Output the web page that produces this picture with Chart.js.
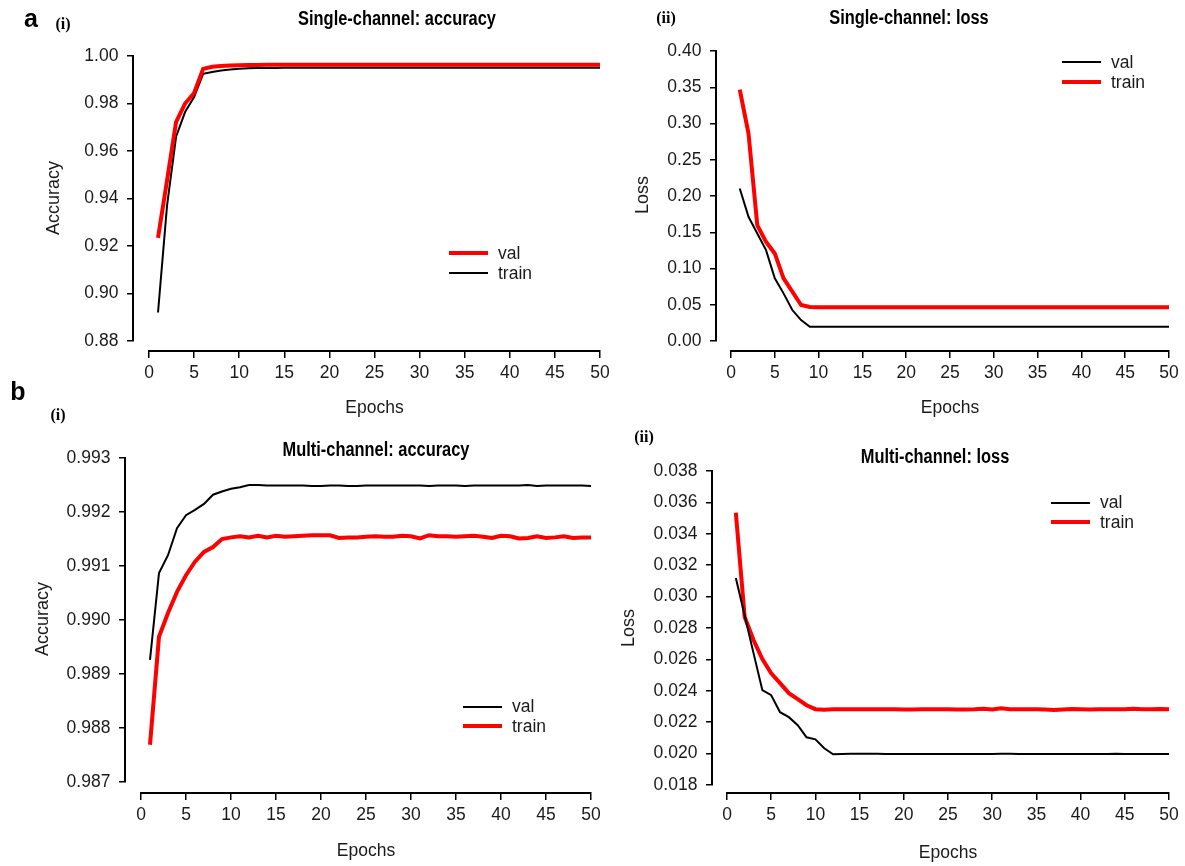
<!DOCTYPE html>
<html lang="en">
<head>
  <meta charset="UTF-8" />
  <title>Single- and multi-channel training curves</title>
  <script src="https://cdn.jsdelivr.net/npm/chart.js"></script>
  <style>
    body { margin: 0; background: #fff; }
    #fig { position: relative; width: 1185px; height: 866px; overflow: hidden;
           font-family: 'Liberation Sans', Arial, sans-serif; color: #1a1a1a; }
    #fig canvas { position: absolute; }
    .txt { position: absolute; white-space: nowrap; line-height: 1; transform: translate(-50%, -50%); }
    .panel { font-weight: bold; font-size: 25px; color: #000; }
    .sub { font-family: 'Liberation Serif', 'Times New Roman', serif; font-weight: bold; font-size: 16px; color: #000; }
    /* condensed bold headings */
    .title { font-weight: bold; font-size: 20px; color: #000; transform: translate(-50%, -50%) scaleX(0.82); }
    .ytitle { font-size: 18px; transform: translate(-50%, -50%) rotate(-90deg); }
    .legend { position: absolute; font-size: 17.5px; }
    .legend .row { display: flex; align-items: center; }
    .legend .swatch { display: inline-block; width: 39px; margin-right: 10px; }
  </style>
</head>
<body>
  <div id="fig">
    <canvas id="accSingle" width="620" height="430" style="left:0;top:0"></canvas>
    <canvas id="lossSingle" width="585" height="430" style="left:600px;top:0"></canvas>
    <canvas id="accMulti" width="610" height="436" style="left:0;top:430px"></canvas>
    <canvas id="lossMulti" width="585" height="436" style="left:600px;top:430px"></canvas>

    <div class="txt panel" style="left:31px;top:18px">a</div>
    <div class="txt sub" style="left:63px;top:24px">(i)</div>
    <div class="txt sub" style="left:666px;top:18px">(ii)</div>
    <div class="txt title" style="left:397px;top:18px">Single-channel: accuracy</div>
    <div class="txt title" style="left:909px;top:17px">Single-channel: loss</div>
    <div class="txt ytitle" style="left:53px;top:198px">Accuracy</div>
    <div class="txt ytitle" style="left:642px;top:195px">Loss</div>

    <div class="txt panel" style="left:18px;top:391px">b</div>
    <div class="txt sub" style="left:58px;top:415px">(i)</div>
    <div class="txt sub" style="left:644px;top:437px">(ii)</div>
    <div class="txt title" style="left:376px;top:449px">Multi-channel: accuracy</div>
    <div class="txt title" style="left:935px;top:456px">Multi-channel: loss</div>
    <div class="txt ytitle" style="left:42px;top:619px">Accuracy</div>
    <div class="txt ytitle" style="left:628px;top:628px">Loss</div>
  </div>

  <script>
    const epochs = [
      1, 2, 3, 4, 5, 6, 7, 8, 9, 10,
      11, 12, 13, 14, 15, 16, 17, 18, 19, 20,
      21, 22, 23, 24, 25, 26, 27, 28, 29, 30,
      31, 32, 33, 34, 35, 36, 37, 38, 39, 40,
      41, 42, 43, 44, 45, 46, 47, 48, 49, 50
    ];

    // single-channel model
    const singleAccVal = [
      0.9234, 0.9476, 0.9722, 0.9800, 0.9844, 0.9946, 0.9955, 0.9958, 0.9960, 0.9961,
      0.9962, 0.9962, 0.9963, 0.9963, 0.9963, 0.9963, 0.9963, 0.9963, 0.9963, 0.9963,
      0.9963, 0.9963, 0.9963, 0.9963, 0.9963, 0.9963, 0.9963, 0.9963, 0.9963, 0.9963,
      0.9963, 0.9963, 0.9963, 0.9963, 0.9963, 0.9963, 0.9963, 0.9963, 0.9963, 0.9963,
      0.9963, 0.9963, 0.9963, 0.9963, 0.9963, 0.9963, 0.9963, 0.9963, 0.9963, 0.9963
    ];
    const singleAccTrain = [
      0.8920, 0.9370, 0.9660, 0.9764, 0.9827, 0.9925, 0.9933, 0.9939, 0.9943, 0.9946,
      0.9948, 0.9949, 0.9950, 0.9950, 0.9951, 0.9951, 0.9951, 0.9951, 0.9951, 0.9951,
      0.9951, 0.9951, 0.9951, 0.9951, 0.9951, 0.9951, 0.9951, 0.9951, 0.9951, 0.9951,
      0.9951, 0.9951, 0.9951, 0.9951, 0.9951, 0.9951, 0.9951, 0.9951, 0.9951, 0.9951,
      0.9951, 0.9951, 0.9951, 0.9951, 0.9951, 0.9951, 0.9951, 0.9951, 0.9951, 0.9951
    ];
    const singleLossVal = [
      0.2104, 0.1713, 0.1484, 0.1254, 0.0864, 0.0657, 0.0427, 0.0289, 0.0197, 0.0197,
      0.0197, 0.0197, 0.0197, 0.0197, 0.0197, 0.0197, 0.0197, 0.0197, 0.0197, 0.0197,
      0.0197, 0.0197, 0.0197, 0.0197, 0.0197, 0.0197, 0.0197, 0.0197, 0.0197, 0.0197,
      0.0197, 0.0197, 0.0197, 0.0197, 0.0197, 0.0197, 0.0197, 0.0197, 0.0197, 0.0197,
      0.0197, 0.0197, 0.0197, 0.0197, 0.0197, 0.0197, 0.0197, 0.0197, 0.0197, 0.0197
    ];
    const singleLossTrain = [
      0.3468, 0.2862, 0.1598, 0.1368, 0.1208, 0.0864, 0.0680, 0.0496, 0.0468, 0.0467,
      0.0467, 0.0467, 0.0467, 0.0467, 0.0467, 0.0467, 0.0467, 0.0467, 0.0467, 0.0467,
      0.0467, 0.0467, 0.0467, 0.0467, 0.0467, 0.0467, 0.0467, 0.0467, 0.0467, 0.0467,
      0.0467, 0.0467, 0.0467, 0.0467, 0.0467, 0.0467, 0.0467, 0.0467, 0.0467, 0.0467,
      0.0467, 0.0467, 0.0467, 0.0467, 0.0467, 0.0467, 0.0467, 0.0467, 0.0467, 0.0467
    ];

    // multi-channel model
    const multiAccVal = [
      0.98926, 0.99087, 0.99120, 0.99170, 0.99194, 0.99204, 0.99215, 0.99232, 0.99238, 0.99243,
      0.99246, 0.99250, 0.99250, 0.99249, 0.99249, 0.99249, 0.99249, 0.99249, 0.99248, 0.99248,
      0.99249, 0.99249, 0.99248, 0.99248, 0.99249, 0.99249, 0.99249, 0.99249, 0.99249, 0.99249,
      0.99249, 0.99248, 0.99249, 0.99249, 0.99249, 0.99248, 0.99249, 0.99249, 0.99249, 0.99249,
      0.99249, 0.99249, 0.99250, 0.99248, 0.99249, 0.99249, 0.99249, 0.99249, 0.99249, 0.99248
    ];
    const multiAccTrain = [
      0.98769, 0.98969, 0.99013, 0.99052, 0.99083, 0.99108, 0.99126, 0.99135, 0.99150, 0.99153,
      0.99155, 0.99153, 0.99156, 0.99153, 0.99156, 0.99154, 0.99155, 0.99156, 0.99157, 0.99157,
      0.99157, 0.99152, 0.99153, 0.99153, 0.99154, 0.99155, 0.99154, 0.99154, 0.99156, 0.99155,
      0.99151, 0.99157, 0.99155, 0.99155, 0.99154, 0.99155, 0.99156, 0.99154, 0.99152, 0.99156,
      0.99155, 0.99151, 0.99152, 0.99155, 0.99152, 0.99153, 0.99155, 0.99152, 0.99153, 0.99153
    ];
    const multiLossVal = [
      0.03119, 0.02880, 0.02640, 0.02404, 0.02372, 0.02264, 0.02232, 0.02181, 0.02104, 0.02091,
      0.02034, 0.01996, 0.01998, 0.01999, 0.01999, 0.01999, 0.01999, 0.01998, 0.01998, 0.01998,
      0.01997, 0.01998, 0.01998, 0.01998, 0.01998, 0.01998, 0.01998, 0.01998, 0.01998, 0.01998,
      0.01999, 0.01999, 0.01998, 0.01998, 0.01998, 0.01997, 0.01997, 0.01998, 0.01998, 0.01998,
      0.01998, 0.01998, 0.01998, 0.01999, 0.01998, 0.01998, 0.01998, 0.01998, 0.01998, 0.01998
    ];
    const multiLossTrain = [
      0.03534, 0.02870, 0.02723, 0.02602, 0.02512, 0.02449, 0.02385, 0.02347, 0.02308, 0.02283,
      0.02280, 0.02283, 0.02282, 0.02282, 0.02283, 0.02283, 0.02282, 0.02283, 0.02282, 0.02281,
      0.02281, 0.02283, 0.02283, 0.02282, 0.02282, 0.02281, 0.02281, 0.02282, 0.02286, 0.02281,
      0.02289, 0.02282, 0.02283, 0.02283, 0.02282, 0.02281, 0.02277, 0.02281, 0.02284, 0.02283,
      0.02281, 0.02282, 0.02282, 0.02282, 0.02282, 0.02285, 0.02283, 0.02283, 0.02284, 0.02283
    ];

    const RED = '#ff0000';
    const BLACK = '#000000';

    Chart.defaults.font.family = "'Liberation Sans', Arial, sans-serif";
    Chart.defaults.font.size = 17.5;
    Chart.defaults.color = '#1a1a1a';

    function series(label, values, color, width) {
      return {
        label,
        data: values.map((v, i) => ({ x: epochs[i], y: v })),
        borderColor: color,
        backgroundColor: color,
        borderWidth: width,
        pointRadius: 0,
        pointHoverRadius: 0,
        tension: 0,
        fill: false
      };
    }

    // Axes sit a few pixels away from the plot (y left of epoch 0, x below the y minimum),
    // so both are placed at a data position worked out from the pixel gap.
    function drawPanel(id, datasets, o) {
      const canvas = document.getElementById(id);
      const plotW = canvas.width - o.pad.left - o.pad.right;
      const plotH = canvas.height - o.pad.top - o.pad.bottom;
      const yAxisAt = -o.yGap * 50 / plotW;
      const xAxisAt = o.yMin - o.xGap * (o.yMax - o.yMin) / plotH;

      return new Chart(canvas, {
        type: 'line',
        data: { datasets },
        options: {
          responsive: false,
          animation: false,
          events: [],
          layout: { padding: o.pad },
          plugins: {
            legend: { display: false },
            title: { display: false },
            tooltip: { enabled: false }
          },
          scales: {
            x: {
              type: 'linear',
              min: 0,
              max: 50,
              position: { y: xAxisAt },
              border: { color: BLACK, width: 2 },
              grid: { drawOnChartArea: false, tickLength: 6, color: BLACK, lineWidth: 1.5 },
              ticks: { stepSize: 5, padding: 6, maxRotation: 0, autoSkip: false },
              title: { display: true, text: 'Epochs', padding: { top: o.titlePad, bottom: 0 } }
            },
            y: {
              type: 'linear',
              min: o.yMin,
              max: o.yMax,
              position: { x: yAxisAt },
              border: { color: BLACK, width: 2 },
              grid: { drawOnChartArea: false, tickLength: 5, color: BLACK, lineWidth: 1.5 },
              ticks: {
                stepSize: o.yStep,
                // labels are right-aligned on the axis line, the spaces keep them off the ticks
                callback: v => v.toFixed(o.digits) + '   '
              }
            }
          }
        }
      });
    }

    function addLegend(chart, left, top, rowH) {
      const box = document.createElement('div');
      box.className = 'legend';
      box.style.left = left + 'px';
      box.style.top = top + 'px';
      chart.data.datasets.forEach(ds => {
        const row = document.createElement('div');
        row.className = 'row';
        row.style.height = rowH + 'px';
        const swatch = document.createElement('span');
        swatch.className = 'swatch';
        swatch.style.height = ds.borderWidth + 'px';
        swatch.style.background = ds.borderColor;
        const label = document.createElement('span');
        label.textContent = ds.label;
        row.append(swatch, label);
        box.append(row);
      });
      document.getElementById('fig').append(box);
    }

    const accSingle = drawPanel('accSingle', [
      series('val', singleAccVal, RED, 4),
      series('train', singleAccTrain, BLACK, 2)
    ], { pad: { top: 56, right: 20, bottom: 89, left: 149 }, yGap: 16, xGap: 10,
         yMin: 0.88, yMax: 1.00, yStep: 0.02, digits: 2, titlePad: 8 });

    const lossSingle = drawPanel('lossSingle', [
      series('val', singleLossVal, BLACK, 2),
      series('train', singleLossTrain, RED, 4)
    ], { pad: { top: 51, right: 16, bottom: 89, left: 131 }, yGap: 15, xGap: 10,
         yMin: 0, yMax: 0.40, yStep: 0.05, digits: 2, titlePad: 8 });

    const accMulti = drawPanel('accMulti', [
      series('val', multiAccVal, BLACK, 2),
      series('train', multiAccTrain, RED, 4)
    ], { pad: { top: 28, right: 19, bottom: 84, left: 141 }, yGap: 16, xGap: 11,
         yMin: 0.987, yMax: 0.993, yStep: 0.001, digits: 3, titlePad: 9 });

    const lossMulti = drawPanel('lossMulti', [
      series('val', multiLossVal, BLACK, 2),
      series('train', multiLossTrain, RED, 4)
    ], { pad: { top: 41, right: 16, bottom: 81, left: 127 }, yGap: 15, xGap: 8,
         yMin: 0.018, yMax: 0.038, yStep: 0.002, digits: 3, titlePad: 11 });

    addLegend(accSingle, 449, 243, 20);
    addLegend(lossSingle, 1062, 52, 20);
    addLegend(accMulti, 463, 697, 19.5);
    addLegend(lossMulti, 1051, 493, 19.5);
  </script>
</body>
</html>
